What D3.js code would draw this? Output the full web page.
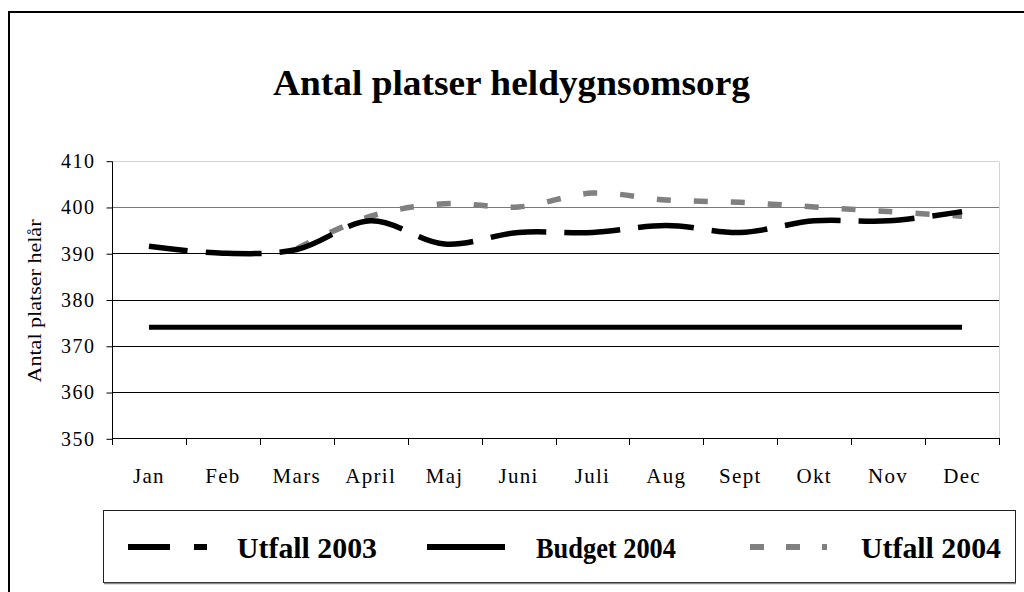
<!DOCTYPE html>
<html>
<head>
<meta charset="utf-8">
<script src="https://cdn.jsdelivr.net/npm/d3@7"></script>
<style>
  html, body { margin: 0; padding: 0; background: #fff; }
  svg { display: block; }
  text { font-family: "Liberation Serif", "Times New Roman", serif; fill: #000; }
</style>
</head>
<body>
<svg id="chart" width="1024" height="592"></svg>
<script>
const months = ["Jan","Feb","Mars","April","Maj","Juni","Juli","Aug","Sept","Okt","Nov","Dec"];
const utfall2003 = [391.5, 390, 390.8, 397, 392, 394.5, 394.5, 396, 394.5, 397, 397, 399];
const budget2004 = [374, 374, 374, 374, 374, 374, 374, 374, 374, 374, 374, 374];
const utfall2004 = [null, null, 391, 398, 400.7, 400, 403, 401.5, 401, 400, 399, 398];
const yTicks = [350, 360, 370, 380, 390, 400, 410];
const seriesNames = ["Utfall 2003", "Budget 2004", "Utfall 2004"];
const titleText = "Antal platser heldygnsomsorg";
const yTitle = "Antal platser helår";

(function () {
const svg = d3.select("#chart");

// outer frame (extends beyond the visible area)
svg.append("rect").attr("x", 9).attr("y", 12).attr("width", 1040).attr("height", 620)
  .attr("fill", "none").attr("stroke", "#000").attr("stroke-width", 2);

const pLeft = 112, pRight = 999, pTop = 160.7, pBottom = 438.3;
const x = d3.scaleBand().domain(months).range([pLeft, pRight]).padding(0);
const cx = m => x(m) + x.bandwidth() / 2;
const y = d3.scaleLinear().domain([350, 410]).range([pBottom, pTop]);

// title
svg.append("text").attr("x", 511.5).attr("y", 95).attr("text-anchor", "middle")
  .attr("font-size", 36).attr("font-weight", "bold")
  .attr("textLength", 477).attr("lengthAdjust", "spacingAndGlyphs")
  .text(titleText);

// gridlines
const gridColor = v => v === 410 ? "#d4d4d4" : (v === 400 ? "#7a7a7a" : "#000");
svg.append("g").selectAll("line").data(yTicks.filter(v => v !== 350)).join("line")
  .attr("x1", pLeft).attr("x2", pRight)
  .attr("y1", d => Math.round(y(d)) + 0.5).attr("y2", d => Math.round(y(d)) + 0.5)
  .attr("stroke", d => gridColor(d)).attr("stroke-width", 1);
// plot right border
svg.append("line").attr("x1", pRight + 0.5).attr("x2", pRight + 0.5)
  .attr("y1", Math.round(pTop) + 0.5).attr("y2", Math.round(pBottom) + 0.5)
  .attr("stroke", "#d4d4d4");

// y axis
const yAxis = d3.axisLeft(y).tickValues(yTicks).tickSize(6).tickPadding(11).tickFormat(d3.format("d"));
const gy = svg.append("g").attr("transform", `translate(${pLeft + 0.5},0.5)`).call(yAxis);
gy.select(".domain").attr("stroke", "#000").attr("d", `M0,${Math.round(pTop)}V${Math.round(pBottom)}`);
gy.selectAll(".tick line").attr("stroke", "#000");
gy.selectAll(".tick text").attr("font-family", "Liberation Serif, serif").attr("font-size", 20)
  .attr("letter-spacing", 1.5).attr("fill", "#000");

// x axis
svg.append("line").attr("x1", pLeft).attr("x2", pRight + 1)
  .attr("y1", Math.round(pBottom) + 0.5).attr("y2", Math.round(pBottom) + 0.5).attr("stroke", "#000");
const edges = months.map(m => x(m)).concat([pRight]);
svg.append("g").selectAll("line").data(edges).join("line")
  .attr("x1", d => Math.round(d) + 0.5).attr("x2", d => Math.round(d) + 0.5)
  .attr("y1", Math.round(pBottom)).attr("y2", Math.round(pBottom) + 7).attr("stroke", "#000");
const xAxis = d3.axisBottom(x).tickSize(0).tickPadding(0);
const gx = svg.append("g").attr("transform", `translate(0,${Math.round(pBottom)})`).call(xAxis);
gx.select(".domain").remove();
gx.selectAll(".tick text").attr("font-family", "Liberation Serif, serif").attr("font-size", 21)
  .attr("letter-spacing", 1.3).attr("fill", "#000").attr("dy", null).attr("y", 45);

// y axis title
svg.append("text").attr("transform", "translate(41,301) rotate(-90)").attr("text-anchor", "middle")
  .attr("font-size", 19).attr("textLength", 163).attr("lengthAdjust", "spacingAndGlyphs")
  .text(yTitle);

// lines
const line = d3.line().defined(d => d.v != null).x(d => cx(d.m)).y(d => y(d.v))
  .curve(d3.curveCatmullRom.alpha(0.5));
const toPts = arr => months.map((m, i) => ({ m, v: arr[i] }));

svg.append("path").datum(toPts(budget2004)).attr("d", line)
  .attr("fill", "none").attr("stroke", "#000").attr("stroke-width", 5);
svg.append("path").datum(toPts(utfall2004)).attr("d", line)
  .attr("fill", "none").attr("stroke", "#808080").attr("stroke-width", 5.5)
  .attr("stroke-dasharray", "14,23");
svg.append("path").datum(toPts(utfall2003)).attr("d", line)
  .attr("fill", "none").attr("stroke", "#000").attr("stroke-width", 5.5)
  .attr("stroke-dasharray", "56,18").attr("stroke-dashoffset", 17);

// legend
svg.append("rect").attr("x", 103.5).attr("y", 510.5).attr("width", 912).attr("height", 72)
  .attr("fill", "#fff").attr("stroke", "#222").attr("stroke-width", 1);
svg.append("line").attr("x1", 104).attr("x2", 1016).attr("y1", 583.5).attr("y2", 583.5)
  .attr("stroke", "#888").attr("stroke-width", 1.5);

const legendItems = [
  { name: seriesNames[0], x1: 128, x2: 207, tx: 237, color: "#000", dash: "42,24" },
  { name: seriesNames[1], x1: 427, x2: 505, tx: 536, color: "#000", dash: null },
  { name: seriesNames[2], x1: 750, x2: 827, tx: 861, color: "#808080", dash: "14,22" }
];
const lg = svg.append("g").selectAll("g").data(legendItems).join("g");
lg.append("line").attr("x1", d => d.x1).attr("x2", d => d.x2).attr("y1", 547).attr("y2", 547)
  .attr("stroke", d => d.color).attr("stroke-width", 6)
  .attr("stroke-dasharray", d => d.dash);
lg.append("text").attr("x", d => d.tx).attr("y", 558).attr("font-size", 30).attr("font-weight", "bold")
  .attr("textLength", 140).attr("lengthAdjust", "spacingAndGlyphs")
  .text(d => d.name);
})();
</script>
</body>
</html>
